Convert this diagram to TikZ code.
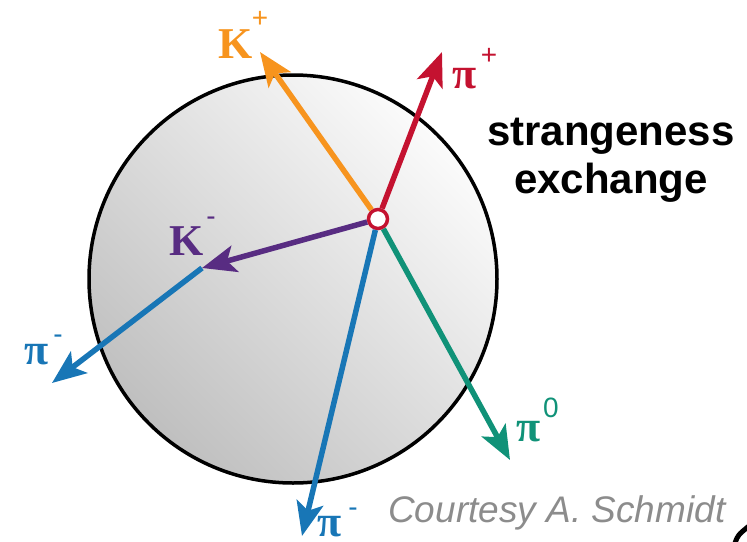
\documentclass[tikz,border=0pt]{standalone}
\usepackage{fontspec}
\setmainfont{Liberation Serif}
\setsansfont{Liberation Sans}
\usetikzlibrary{arrows.meta}
\definecolor{kplus}{RGB}{247,148,30}
\definecolor{piplus}{RGB}{196,18,48}
\definecolor{kminus}{RGB}{88,44,130}
\definecolor{piminus}{RGB}{24,118,182}
\definecolor{pizero}{RGB}{16,146,120}
\definecolor{credit}{RGB}{140,140,140}

\begin{document}
\begin{tikzpicture}[x=1pt, y=-1pt, >={Stealth[length=34pt,width=27pt,inset=8pt]},
  track/.style={line width=5.5pt, ->},
  particle/.style={font=\fontsize{44}{44}\selectfont\bfseries, inner sep=0pt},
  charge/.style={font=\sffamily\fontsize{28}{28}\selectfont, inner sep=0pt}]
  \useasboundingbox (0,0) rectangle (747,541);

  % Target nucleus
  \shade[top color=gray!3, bottom color=gray!50, shading angle=-45] (293,279) circle (204pt);
  \draw[line width=3.5pt] (293,279) circle (204pt);

  % Tip positions
  \coordinate (kp) at (260,52);
  \coordinate (pp) at (442,52);
  \coordinate (km) at (202,268);
  \coordinate (pml) at (52,383);
  \coordinate (pmb) at (302,536);
  \coordinate (pz) at (510,460);

  % Vertex
  \node[circle, draw=piplus, line width=3.5pt, fill=white, minimum size=19pt, inner sep=0pt] (v) at (378,219) {};

  % Tracks
  \draw[track, piminus] (km) -- (pml);
  \draw[track, kplus] (v) -- (kp);
  \draw[track, piplus] (v) -- (pp);
  \draw[track, kminus] (v) -- (km);
  \draw[track, piminus] (v) -- (pmb);
  \draw[track, pizero] (v) -- (pz);

  % Labels
  \node[particle, text=kplus] (kpl) at (236,44) {K};
  \node[charge, text=kplus] (kpc) at (260,19) {+};
  \node[particle, text=piplus] (ppl) at (465,79) {π};
  \node[charge, text=piplus] (ppc) at (489,56) {+};
  \node[particle, text=kminus] (kml) at (187,241) {K};
  \node[charge, text=kminus] (kmc) at (211,221) {-};
  \node[particle, text=piminus] (pmll) at (37,355) {π};
  \node[charge, text=piminus] (pmlc) at (58,339) {-};
  \node[particle, text=piminus] (pmbl) at (330,527) {π};
  \node[charge, text=piminus] (pmbc) at (353,512) {-};
  \node[particle, text=pizero] (pzl) at (529,432) {π};
  \node[charge, text=pizero] (pzc) at (551,408) {0};

  % Captions
  \node[font=\sffamily\bfseries\fontsize{42}{42}\selectfont, anchor=base] (strange) at (611,145) {strangeness};
  \node[font=\sffamily\bfseries\fontsize{42}{42}\selectfont, anchor=base] (exch) at (611,193) {exchange};
  \node[font=\sffamily\itshape\fontsize{37}{37}\selectfont, text=credit, anchor=base west, inner sep=0pt] (court) at (388,522) {Courtesy A. Schmidt};

  % Edge of neighbouring figure
  \draw[line width=5pt] (735,543) .. controls (738,535) .. (749,526);
\end{tikzpicture}
\end{document}
